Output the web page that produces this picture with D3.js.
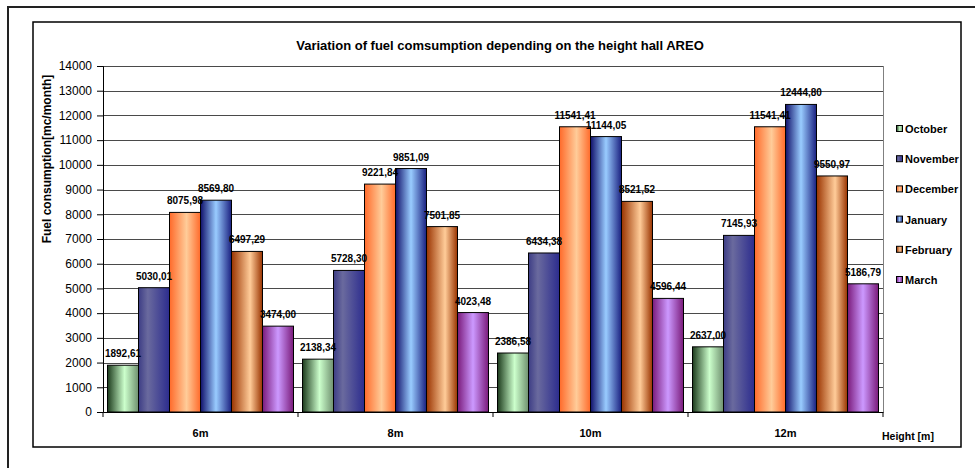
<!DOCTYPE html>
<html>
<head>
<meta charset="utf-8">
<script src="https://cdn.jsdelivr.net/npm/d3@7"></script>
<style>
  body { margin: 0; background: #fff; }
  text { font-family: "Liberation Sans", Arial, sans-serif; }
</style>
</head>
<body>
<div id="chart"></div>
<script>
// data
let heights = ["6m", "8m", "10m", "12m"];
let months = ["October", "November", "December", "January", "February", "March"];
let october = [1892.61, 2138.34, 2386.58, 2637.00];
let november = [5030.01, 5728.30, 6434.38, 7145.93];
let december = [8075.98, 9221.84, 11541.41, 11541.41];
let january = [8569.80, 9851.09, 11144.05, 12444.80];
let february = [6497.29, 7501.85, 8521.52, 9550.97];
let march = [3474.00, 4023.48, 4596.44, 5186.79];
let yTicks = [0, 1000, 2000, 3000, 4000, 5000, 6000, 7000, 8000, 9000, 10000, 11000, 12000, 13000, 14000];

let series = [october, november, december, january, february, march];

// excel-ish shaded fills: [left, middle, right]
let shades = {
    October: [["0%", "#1c3a1c"], ["55%", "#ccffcc"], ["100%", "#6f906f"]],
    November: [["0%", "#3d3d85"], ["30%", "#6a6a9e"], ["100%", "#2c2c8e"]],
    December: [["0%", "#ff6a2a"], ["55%", "#ffcc99"], ["100%", "#ff6a2a"]],
    January: [["0%", "#10106a"], ["50%", "#99ccff"], ["100%", "#1a2080"]],
    February: [["0%", "#993300"], ["60%", "#ffcc99"], ["100%", "#993300"]],
    March: [["0%", "#7a1a7a"], ["50%", "#cc99ff"], ["100%", "#7a1a7a"]]
};

const width = 975, height = 468;
const plot = { left: 103, right: 883, top: 66, bottom: 412 };

let svg = d3.select("#chart")
    .append("svg")
    .attr("width", width)
    .attr("height", height);

let defs = svg.append("defs");
months.forEach(function(m, i) {
    let grad = defs.append("linearGradient")
        .attr("id", "grad" + i)
        .attr("x1", "0%").attr("x2", "100%")
        .attr("y1", "0%").attr("y2", "0%");
    shades[m].forEach(function(s) {
        grad.append("stop").attr("offset", s[0]).attr("stop-color", s[1]);
    });
});

// outer and inner frames
svg.append("rect")
    .attr("x", 8).attr("y", 7)
    .attr("width", 1000).attr("height", 1000)
    .attr("fill", "none")
    .attr("stroke", "#222")
    .attr("stroke-width", 2);

svg.append("rect")
    .attr("x", 33).attr("y", 22)
    .attr("width", 928).attr("height", 425)
    .attr("fill", "#fff")
    .attr("stroke", "#000")
    .attr("stroke-width", 1.5);

let y = d3.scaleLinear()
    .domain([0, 14000])
    .range([plot.bottom, plot.top]);

let x = d3.scaleBand()
    .domain(heights)
    .range([plot.left, plot.right]);

let xInner = d3.scaleBand()
    .domain(months)
    .range([4.5, x.bandwidth() - 4.5]);

// gridlines
svg.append("g")
    .selectAll("line")
    .data(yTicks.slice(1))
    .enter()
    .append("line")
    .attr("x1", plot.left)
    .attr("x2", plot.right)
    .attr("y1", d => Math.round(y(d)) + 0.5)
    .attr("y2", d => Math.round(y(d)) + 0.5)
    .attr("stroke", "#4a4a4a")
    .attr("stroke-width", 1);

svg.append("line")
    .attr("x1", plot.right + 0.5).attr("x2", plot.right + 0.5)
    .attr("y1", plot.top).attr("y2", plot.bottom)
    .attr("stroke", "#808080");

// bars
let groups = svg.append("g")
    .selectAll("g")
    .data(heights)
    .enter()
    .append("g")
    .attr("transform", d => `translate(${x(d)},0)`);

let bars = groups.selectAll("rect")
    .data(function(h, hi) {
        return months.map(function(m, mi) { return { month: m, mi: mi, value: series[mi][hi] }; });
    })
    .enter();

bars.append("rect")
    .attr("x", d => xInner(d.month))
    .attr("y", d => y(d.value))
    .attr("width", xInner.bandwidth())
    .attr("height", d => plot.bottom - y(d.value))
    .attr("fill", d => `url(#grad${d.mi})`)
    .attr("stroke", "#000")
    .attr("stroke-width", 1);

let fmt = d3.format(".2f");
bars.append("text")
    .attr("x", d => xInner(d.month) + xInner.bandwidth() / 2)
    .attr("y", d => y(d.value) - 8)
    .attr("text-anchor", "middle")
    .style("font-size", "10px")
    .style("font-weight", "bold")
    .text(d => fmt(d.value).replace(".", ","));

// axes
let yAxis = svg.append("g")
    .attr("transform", `translate(${plot.left},0)`)
    .call(d3.axisLeft(y).tickValues(yTicks).tickSize(6).tickPadding(5).tickFormat(d3.format("d")));
yAxis.select(".domain").attr("stroke", "#000");
yAxis.selectAll("text").style("font-size", "12px").attr("fill", "#000");

let xAxis = svg.append("g")
    .attr("transform", `translate(0,${plot.bottom})`)
    .call(d3.axisBottom(x).tickSize(0).tickPadding(17));
xAxis.select(".domain").attr("stroke", "#000");
xAxis.selectAll("text")
    .style("font-size", "11px")
    .style("font-weight", "bold")
    .attr("fill", "#000");

// ticks between categories
svg.append("g")
    .selectAll("line")
    .data(heights.concat(["end"]))
    .enter()
    .append("line")
    .attr("x1", (d, i) => plot.left + i * x.bandwidth())
    .attr("x2", (d, i) => plot.left + i * x.bandwidth())
    .attr("y1", plot.bottom)
    .attr("y2", plot.bottom + 5)
    .attr("stroke", "#000");

// titles
svg.append("text")
    .attr("x", 500)
    .attr("y", 50)
    .attr("text-anchor", "middle")
    .style("font-size", "13px")
    .style("font-weight", "bold")
    .text("Variation of fuel comsumption depending on the height hall AREO");

svg.append("text")
    .attr("transform", "translate(51,159) rotate(-90)")
    .attr("text-anchor", "middle")
    .style("font-size", "12px")
    .style("font-weight", "bold")
    .text("Fuel consumption[mc/month]");

svg.append("text")
    .attr("x", 882)
    .attr("y", 440)
    .style("font-size", "10.5px")
    .style("font-weight", "bold")
    .text("Height [m]");

// legend
let legend = svg.append("g")
    .attr("transform", "translate(896,0)");

let items = legend.selectAll("g")
    .data(months)
    .enter()
    .append("g")
    .attr("transform", (d, i) => `translate(0,${129 + i * 30.2})`);

items.append("rect")
    .attr("x", 0.5).attr("y", -3.5)
    .attr("width", 6).attr("height", 6)
    .attr("fill", (d, i) => `url(#grad${i})`)
    .attr("stroke", "#000");

items.append("text")
    .attr("x", 9)
    .attr("y", 4)
    .style("font-size", "11px")
    .style("font-weight", "bold")
    .text(d => d);
</script>
</body>
</html>
